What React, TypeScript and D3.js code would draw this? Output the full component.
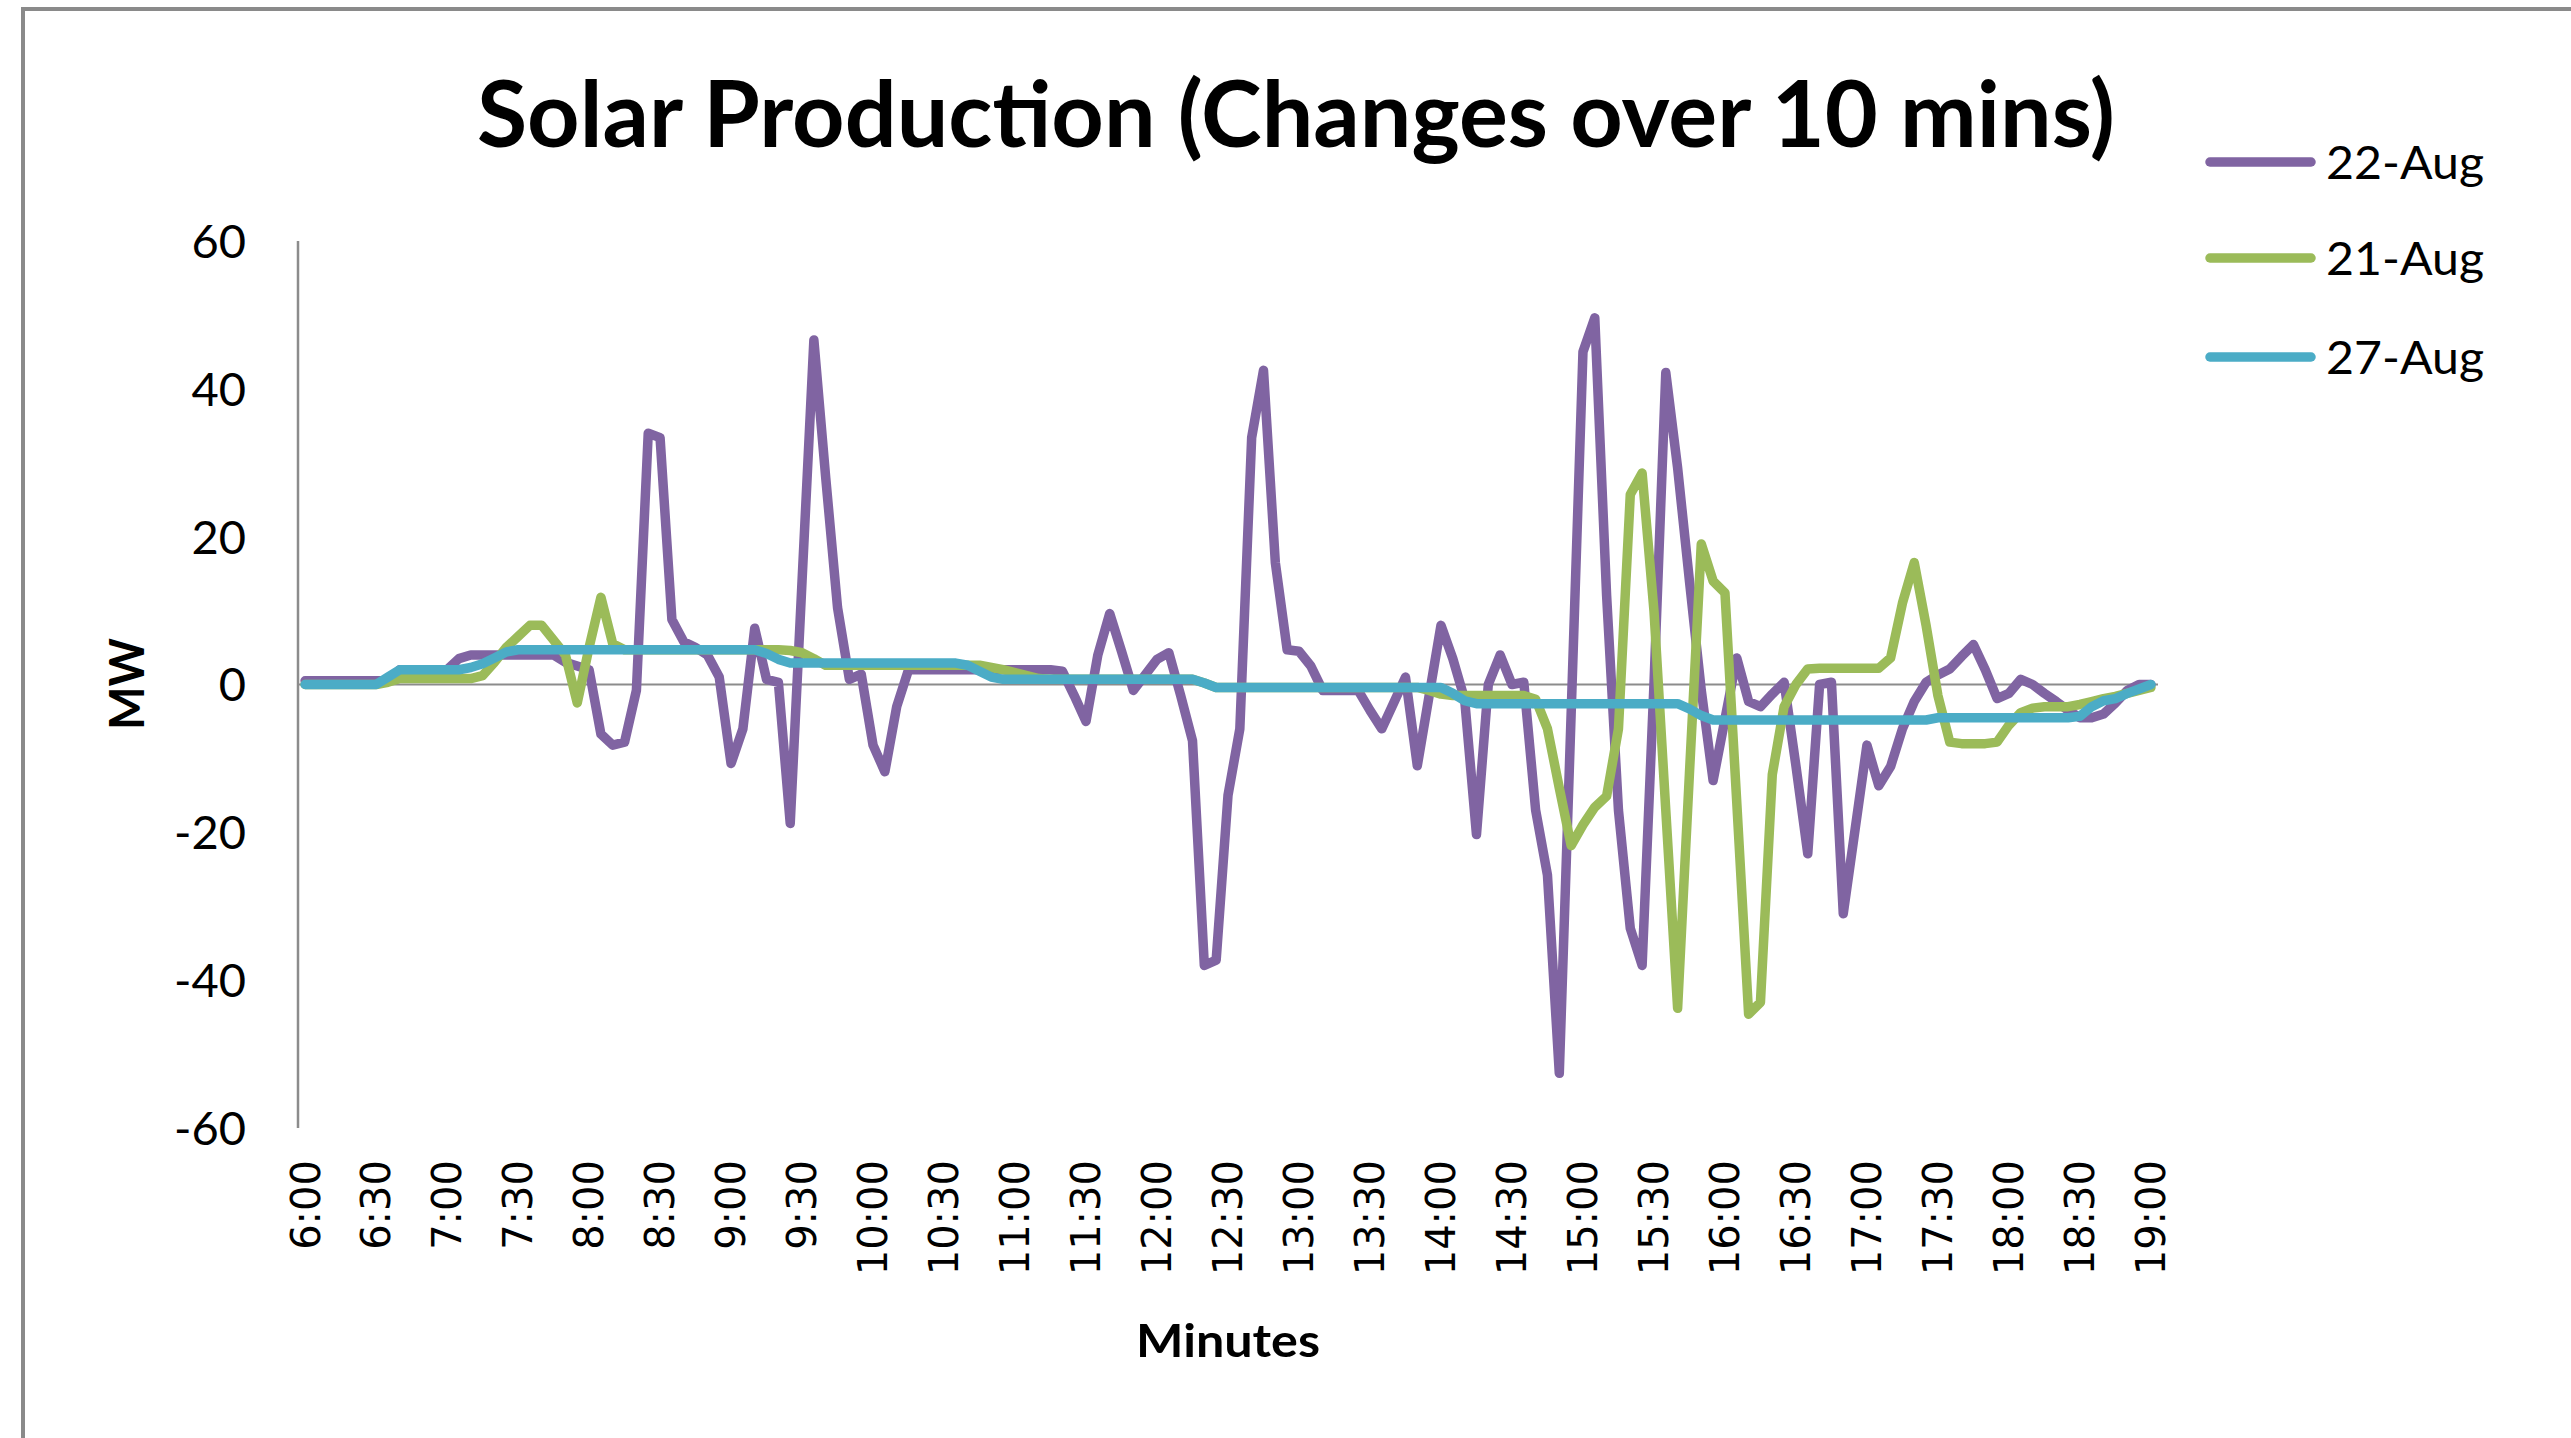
import React from 'react';
import * as d3 from 'd3';

// 5-minute category axis, 6:00 .. 19:00
const categories: string[] = (() => {
  const a: string[] = [];
  for (let m = 360; m <= 1140; m += 5) a.push(`${Math.floor(m / 60)}:${String(m % 60).padStart(2, '0')}`);
  return a;
})();

const tickLabels = [
  '6:00', '6:30', '7:00', '7:30', '8:00', '8:30', '9:00', '9:30', '10:00', '10:30', '11:00', '11:30', '12:00',
  '12:30', '13:00', '13:30', '14:00', '14:30', '15:00', '15:30', '16:00', '16:30', '17:00', '17:30', '18:00',
  '18:30', '19:00',
];

const yTicks = [60, 40, 20, 0, -20, -40, -60];

const seriesNames = ['22-Aug', '21-Aug', '27-Aug'];
const seriesColors = ['#8064A2', '#9BBB59', '#4BACC6'];

const aug22 = [
  0.5, 0.5, 0.5, 0.5, 0.5, 0.5, 0.5, 0.5, 2, 2, 2, 2, 2, 3.5, 4, 4, 4, 4, 4, 4, 4, 4,
  3, 2.5, 2, -6.7, -8.2, -7.8, -0.8, 34, 33.4, 8.8, 5.8, 5, 4, 1, -10.7, -6, 7.6, 0.7, 0.3, -18.8, 14, 46.6,
  28, 10.4, 0.7, 1.4, -8.2, -11.8, -3,
  2, 2, 2, 2, 2, 2, 2, 2, 2, 2, 2, 2, 2,
  1.8, -1.5, -5, 4, 9.6, 4.5, -0.8, 1.3, 3.4, 4.3, -1.5, -7.6, -38, -37.3, -15, -6, 33.4, 42.5, 16.5, 4.7, 4.5, 2.5,
  -0.8, -0.8, -0.8, -0.8,
  -3.5, -6, -2.5, 1, -11, -1.5, 8, 3.5, -2, -20.3, 0, 4, 0, 0.3, -17, -25.8, -52.6, -4, 45, 49.6, 12, -17, -33, -38,
  0, 42.2, 29.3, 14, -0.8, -13, -4.7, 3.6, -2.3, -3, -1.3, 0.3, -11, -22.9, 0, 0.3, -31, -19.6, -8.2, -13.7, -11.1,
  -6, -2.3, 0.3,
  1.3, 2.1, 3.8, 5.4, 2, -1.9, -1.2, 0.7, 0, -1.2, -2.3, -3.5, -4.5, -4.5, -4, -2.5, -0.8, 0, 0,
];

const aug21 = [
  0, 0, 0, 0, 0, 0, 0, 0.3, 0.8, 0.8, 0.8, 0.8, 0.8, 0.8, 0.8,
  1.2, 3, 5, 6.5, 8, 8, 6, 4, -2.5, 5, 11.8, 5.5,
  4.7, 4.7, 4.7, 4.7, 4.7, 4.7, 4.7, 4.7, 4.7, 4.7, 4.7, 4.7, 4.7, 4.7,
  4.6, 4.3, 3.5,
  2.6, 2.6, 2.6, 2.6, 2.6, 2.6, 2.6, 2.6, 2.6, 2.6, 2.6, 2.6, 2.6, 2.6,
  2.3, 2, 1.6, 1.2, 0.8,
  0.7, 0.7, 0.7, 0.7, 0.7, 0.7, 0.7, 0.7, 0.7, 0.7, 0.7, 0.7, 0.7,
  0.2,
  -0.4, -0.4, -0.4, -0.4, -0.4, -0.4, -0.4, -0.4, -0.4, -0.4, -0.4, -0.4, -0.4, -0.4, -0.4, -0.4, -0.4, -0.4,
  -0.8, -1.3,
  -1.5, -1.5, -1.5, -1.5, -1.5, -1.5, -1.5,
  -2, -6, -14, -21.8, -19, -16.6, -15.1, -6, 25.7, 28.6, 10, -17, -43.8, -12, 19, 14, 12.4, -16, -44.6, -43, -12.2,
  -3, 0, 2.1,
  2.2, 2.2, 2.2, 2.2, 2.2, 2.2,
  3.6, 11, 16.5,
  8, -1.5, -7.8, -8, -8, -8, -7.8, -5.5, -3.8, -3.2, -3, -3, -3, -2.7, -2.3, -1.9, -1.6, -1.2, -0.8, -0.4,
];

const aug27 = [
  0, 0, 0, 0, 0, 0, 0, 1, 2, 2, 2, 2, 2, 2, 2.3, 2.8, 3.6, 4.4,
  4.7, 4.7, 4.7, 4.7, 4.7, 4.7, 4.7, 4.7, 4.7, 4.7, 4.7, 4.7, 4.7, 4.7, 4.7, 4.7, 4.7, 4.7, 4.7, 4.7, 4.7,
  4.2, 3.4,
  2.9, 2.9, 2.9, 2.9, 2.9, 2.9, 2.9, 2.9, 2.9, 2.9, 2.9, 2.9, 2.9, 2.9, 2.9,
  2.6, 1.8, 1,
  0.7, 0.7, 0.7, 0.7, 0.7, 0.7, 0.7, 0.7, 0.7, 0.7, 0.7, 0.7, 0.7, 0.7, 0.7, 0.7, 0.7,
  0.2,
  -0.4, -0.4, -0.4, -0.4, -0.4, -0.4, -0.4, -0.4, -0.4, -0.4, -0.4, -0.4, -0.4, -0.4, -0.4, -0.4, -0.4, -0.4, -0.4, -0.4,
  -1.2, -2.2,
  -2.6, -2.6, -2.6, -2.6, -2.6, -2.6, -2.6, -2.6, -2.6, -2.6, -2.6, -2.6, -2.6, -2.6, -2.6, -2.6, -2.6, -2.6,
  -3.3, -4.2,
  -4.8, -4.8, -4.8, -4.8, -4.8, -4.8, -4.8, -4.8, -4.8, -4.8, -4.8, -4.8, -4.8, -4.8, -4.8, -4.8, -4.8, -4.8, -4.8,
  -4.5, -4.5, -4.5, -4.5, -4.5, -4.5, -4.5, -4.5, -4.5, -4.5, -4.5, -4.5,
  -4.3, -3, -2.2, -1.9, -1.2, -0.6, 0,
];

const seriesData = [aug22, aug21, aug27];

const W = 2571;
const H = 1438;
const CAL = 'Lato, "Open Sans", sans-serif';

export default function App() {
  const x = d3.scalePoint<string>().domain(categories).range([298, 2158]).padding(0.6);
  const y = d3.scaleLinear().domain([-60, 60]).range([1128, 241]);
  const line = d3
    .line<number>()
    .x((_, i) => x(categories[i]) as number)
    .y((d) => y(d));

  const legendY = [162, 258, 357];

  return (
    <svg
      width={W}
      height={H}
      style={{ position: 'absolute', left: 0, top: 0, background: '#fff' }}
      xmlns="http://www.w3.org/2000/svg"
    >
      <rect x={0} y={0} width={W} height={H} fill="#fff" />
      <rect x={23} y={9} width={2600} height={1500} fill="#fff" stroke="#8a8a8a" strokeWidth={4} />

      {/* Title */}
      <text
        x={1296}
        y={147}
        textAnchor="middle"
        fontFamily={CAL}
        fontWeight={700}
        fontSize={92}
        textLength={1638}
        lengthAdjust="spacingAndGlyphs"
        fill="#000"
      >
        Solar Production (Changes over 10 mins)
      </text>

      {/* Y axis */}
      <line x1={298} x2={298} y1={y(60)} y2={y(-60)} stroke="#8c8c8c" strokeWidth={2.5} />
      {yTicks.map((t) => (
        <text
          key={t}
          x={246}
          y={y(t)}
          dy="0.36em"
          textAnchor="end"
          fontFamily={CAL}
          fontSize={47}
          fill="#000"
        >
          {t}
        </text>
      ))}
      <text
        transform={`translate(144,684) rotate(-90)`}
        textAnchor="middle"
        fontFamily={CAL}
        fontWeight={700}
        fontSize={47}
        textLength={92}
        lengthAdjust="spacingAndGlyphs"
        fill="#000"
      >
        MW
      </text>

      {/* zero line (category axis) */}
      <line x1={298} x2={2158} y1={y(0)} y2={y(0)} stroke="#8c8c8c" strokeWidth={2} />

      {/* category tick labels */}
      {tickLabels.map((lab) => (
        <text
          key={lab}
          transform={`translate(${x(lab)},1160) rotate(-90)`}
          dy="0.36em"
          textAnchor="end"
          fontFamily='"DejaVu Sans", Verdana, sans-serif'
          fontSize={40}
          fill="#000"
        >
          {lab}
        </text>
      ))}
      <text
        x={1228}
        y={1357}
        textAnchor="middle"
        fontFamily={CAL}
        fontWeight={700}
        fontSize={46}
        textLength={184}
        lengthAdjust="spacingAndGlyphs"
        fill="#000"
      >
        Minutes
      </text>

      {/* series */}
      {seriesData.map((s, k) => (
        <path
          key={seriesNames[k]}
          d={line(s) ?? ''}
          fill="none"
          stroke={seriesColors[k]}
          strokeWidth={9.5}
          strokeLinejoin="round"
          strokeLinecap="round"
        />
      ))}

      {/* legend */}
      {seriesNames.map((n, k) => (
        <g key={n}>
          <line
            x1={2210}
            x2={2311}
            y1={legendY[k]}
            y2={legendY[k]}
            stroke={seriesColors[k]}
            strokeWidth={9.5}
            strokeLinecap="round"
          />
          <text
            x={2326}
            y={legendY[k]}
            dy="0.36em"
            fontFamily={CAL}
            fontSize={46}
            textLength={158}
            lengthAdjust="spacingAndGlyphs"
            fill="#000"
          >
            {n}
          </text>
        </g>
      ))}
    </svg>
  );
}
